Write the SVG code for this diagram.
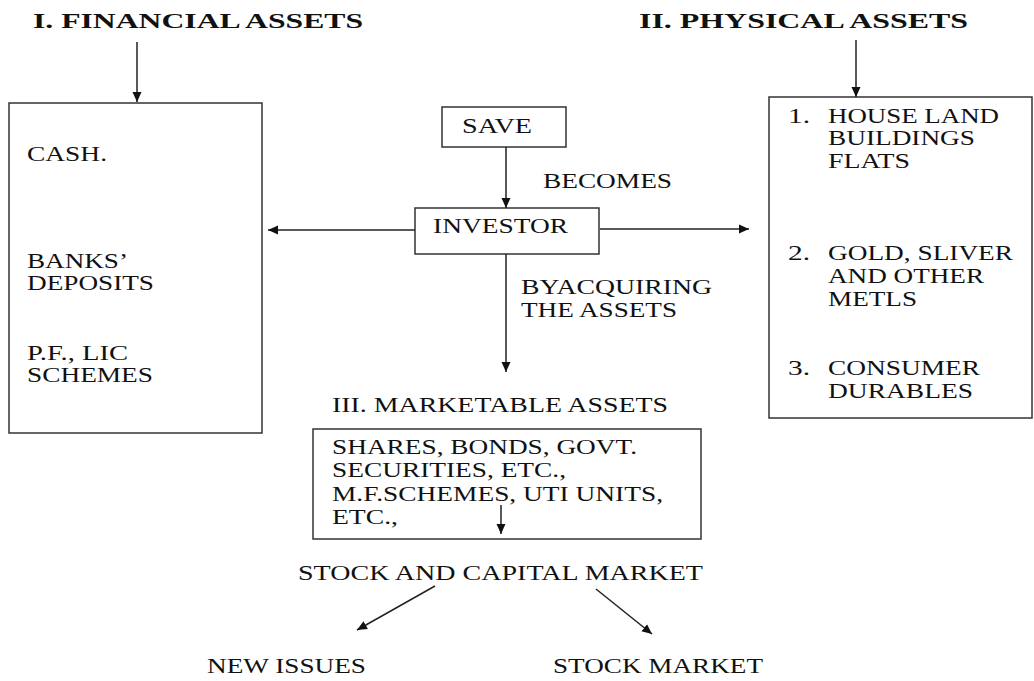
<svg xmlns="http://www.w3.org/2000/svg" width="1034" height="681" viewBox="0 0 1034 681">
<defs>
<style>
.t{font-family:"Liberation Serif","Times New Roman",serif;font-size:21px;fill:#111}
.b{font-weight:bold;font-size:21.5px}
.box{fill:none;stroke:#333;stroke-width:1.5}
.ln{fill:none;stroke:#222;stroke-width:1.5}
</style>
<marker id="ah" markerUnits="userSpaceOnUse" markerWidth="10" markerHeight="10" refX="10" refY="5" orient="auto">
<path d="M0,0.5 L10,5 L0,9.5 z" fill="#111"/>
</marker>
</defs>
<rect width="1034" height="681" fill="#fff"/>
<g id="title-financial"><text class="t b" x="33" y="28" textLength="330" lengthAdjust="spacingAndGlyphs">I. FINANCIAL ASSETS</text></g>
<g id="title-physical"><text class="t b" x="639" y="28" textLength="329" lengthAdjust="spacingAndGlyphs">II. PHYSICAL ASSETS</text></g>
<g id="financial-box">
<rect class="box" x="9" y="103" width="253" height="330"/>
<text class="t" x="27" y="161" textLength="80" lengthAdjust="spacingAndGlyphs">CASH.</text>
<text class="t" x="27" y="268" textLength="101" lengthAdjust="spacingAndGlyphs">BANKS’</text>
<text class="t" x="27" y="290" textLength="127" lengthAdjust="spacingAndGlyphs">DEPOSITS</text>
<text class="t" x="27" y="360" textLength="101" lengthAdjust="spacingAndGlyphs">P.F., LIC</text>
<text class="t" x="27" y="382" textLength="126" lengthAdjust="spacingAndGlyphs">SCHEMES</text>
</g>
<g id="physical-box">
<rect class="box" x="769" y="97" width="263" height="321"/>
<text class="t" x="788" y="123" textLength="22" lengthAdjust="spacingAndGlyphs">1.</text>
<text class="t" x="828" y="123" textLength="171" lengthAdjust="spacingAndGlyphs">HOUSE LAND</text>
<text class="t" x="828" y="145" textLength="147" lengthAdjust="spacingAndGlyphs">BUILDINGS</text>
<text class="t" x="828" y="168" textLength="82" lengthAdjust="spacingAndGlyphs">FLATS</text>
<text class="t" x="788" y="260" textLength="22" lengthAdjust="spacingAndGlyphs">2.</text>
<text class="t" x="828" y="260" textLength="185" lengthAdjust="spacingAndGlyphs">GOLD, SLIVER</text>
<text class="t" x="828" y="283" textLength="156" lengthAdjust="spacingAndGlyphs">AND OTHER</text>
<text class="t" x="828" y="306" textLength="89" lengthAdjust="spacingAndGlyphs">METLS</text>
<text class="t" x="788" y="375" textLength="22" lengthAdjust="spacingAndGlyphs">3.</text>
<text class="t" x="828" y="375" textLength="152" lengthAdjust="spacingAndGlyphs">CONSUMER</text>
<text class="t" x="828" y="398" textLength="145" lengthAdjust="spacingAndGlyphs">DURABLES</text>
</g>
<g id="save">
<rect class="box" x="442" y="107" width="124" height="40"/>
<text class="t" x="462" y="133" textLength="70" lengthAdjust="spacingAndGlyphs">SAVE</text>
</g>
<g id="investor">
<rect class="box" x="415" y="208" width="184" height="46"/>
<text class="t" x="433" y="233" textLength="135" lengthAdjust="spacingAndGlyphs">INVESTOR</text>
</g>
<g id="label-becomes"><text class="t" x="543" y="188" textLength="129" lengthAdjust="spacingAndGlyphs">BECOMES</text></g>
<g id="label-acquiring">
<text class="t" x="521" y="294" textLength="191" lengthAdjust="spacingAndGlyphs">BYACQUIRING</text>
<text class="t" x="521" y="317" textLength="156" lengthAdjust="spacingAndGlyphs">THE ASSETS</text>
</g>
<g id="title-marketable"><text class="t" x="332" y="412" textLength="336" lengthAdjust="spacingAndGlyphs">III. MARKETABLE ASSETS</text></g>
<g id="marketable-box">
<rect class="box" x="313" y="429" width="388" height="110"/>
<text class="t" x="332" y="454" textLength="305" lengthAdjust="spacingAndGlyphs">SHARES, BONDS, GOVT.</text>
<text class="t" x="332" y="477" textLength="234" lengthAdjust="spacingAndGlyphs">SECURITIES, ETC.,</text>
<text class="t" x="332" y="501" textLength="331" lengthAdjust="spacingAndGlyphs">M.F.SCHEMES, UTI UNITS,</text>
<text class="t" x="332" y="524" textLength="66" lengthAdjust="spacingAndGlyphs">ETC.,</text>
</g>
<g id="stock-capital"><text class="t" x="298" y="580" textLength="405" lengthAdjust="spacingAndGlyphs">STOCK AND CAPITAL MARKET</text></g>
<g id="new-issues"><text class="t" x="207" y="673" textLength="159" lengthAdjust="spacingAndGlyphs">NEW ISSUES</text></g>
<g id="stock-market"><text class="t" x="553" y="673" textLength="210" lengthAdjust="spacingAndGlyphs">STOCK MARKET</text></g>
<g id="connectors">
<line class="ln" x1="137" y1="42" x2="137" y2="102" marker-end="url(#ah)"/>
<line class="ln" x1="856" y1="40" x2="856" y2="97" marker-end="url(#ah)"/>
<line class="ln" x1="506" y1="147" x2="506" y2="208" marker-end="url(#ah)"/>
<line class="ln" x1="415" y1="230" x2="268" y2="230" marker-end="url(#ah)"/>
<line class="ln" x1="600" y1="229" x2="749" y2="229" marker-end="url(#ah)"/>
<line class="ln" x1="506" y1="254" x2="506" y2="372" marker-end="url(#ah)"/>
<line class="ln" x1="501" y1="505" x2="501" y2="534" marker-end="url(#ah)"/>
<line class="ln" x1="435" y1="586" x2="357" y2="630" marker-end="url(#ah)"/>
<line class="ln" x1="596" y1="589" x2="652" y2="634" marker-end="url(#ah)"/>
</g>
</svg>
